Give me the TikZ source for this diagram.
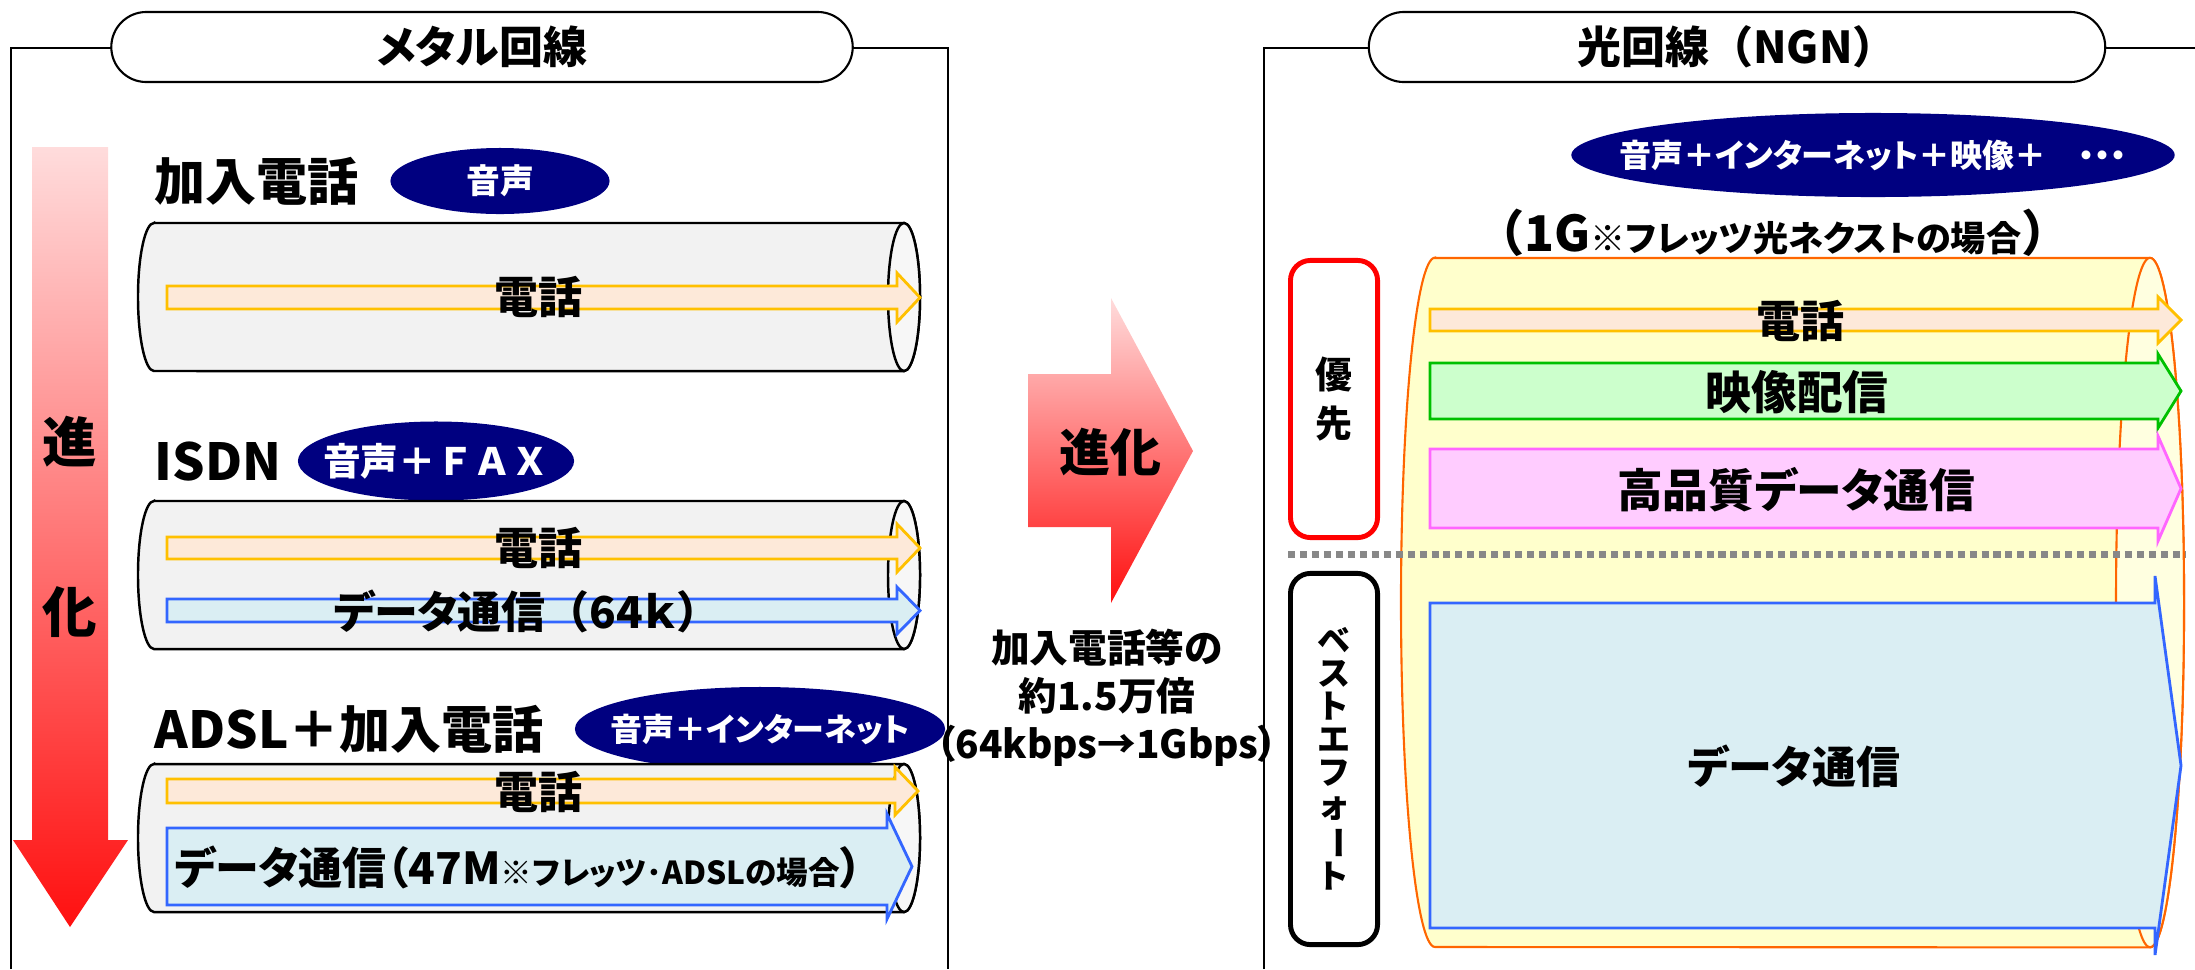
\documentclass[tikz,border=0pt]{standalone}
\usepackage{fontspec}
\usepackage{graphicx}
\setmainfont{Noto Sans CJK JP}[RawFeature=+palt]
\newfontfamily\jpfix{Noto Sans CJK JP}
\usetikzlibrary{shapes.geometric}

\definecolor{navyblue}{HTML}{000080}
\definecolor{tubegray}{HTML}{F2F2F2}
\definecolor{tubeface}{HTML}{F7F7F7}
\definecolor{fibreorange}{HTML}{FF6600}
\definecolor{fibreyellow}{HTML}{FFFFCC}
\definecolor{fibreface}{HTML}{FFFFE0}
\definecolor{telorange}{HTML}{FFC000}
\definecolor{telfill}{HTML}{FDE9D9}
\definecolor{datablue}{HTML}{3366FF}
\definecolor{datafill}{HTML}{DAEEF3}
\definecolor{videogreen}{HTML}{00C000}
\definecolor{videofill}{HTML}{CCFFCC}
\definecolor{hqpink}{HTML}{FF66FF}
\definecolor{hqfill}{HTML}{FFCCFF}
\definecolor{redtop}{HTML}{FFDCDC}
\definecolor{redbot}{HTML}{FF1010}
\definecolor{dotgray}{HTML}{888888}

\tikzset{%
	pill/.style={
		draw,
		line width=0.6pt,
		fill=white,
		rounded corners=0.35cm,
		minimum height=0.7cm,
		inner sep=0pt,
		font=\bfseries\fontsize{12.5}{15}\selectfont
	},
	bubble/.style={
		ellipse,
		fill=navyblue,
		text=white,
		inner xsep=-3cm,
		inner ysep=-1cm,
		font=\bfseries\fontsize{9.6}{11}\selectfont
	},
	service/.style={anchor=west, inner sep=0pt, font=\bfseries\fontsize{14.5}{17}\selectfont},
	flowtext/.style={inner sep=0pt, font=\bfseries\fontsize{12.5}{15}\selectfont},
	tube/.style={draw=black, line width=0.7pt, fill=tubegray},
	tubeend/.style={draw=black, line width=0.7pt, fill=tubeface},
	fibre/.style={draw=fibreorange, line width=0.6pt, fill=fibreyellow},
	fibreend/.style={draw=fibreorange, line width=0.6pt, fill=fibreface},
	telarrow/.style={draw=telorange, line width=0.8pt, fill=telfill},
	dataarrow/.style={draw=datablue, line width=0.8pt, fill=datafill},
	videoarrow/.style={draw=videogreen, line width=0.8pt, fill=videofill},
	hqarrow/.style={draw=hqpink, line width=0.8pt, fill=hqfill},
	classbox/.style={
		draw,
		line width=1.4pt,
		rounded corners=0.2cm,
		minimum width=0.87cm,
		align=center,
		inner sep=0pt
	},
}

% block arrow: style, left x, head x, tip x, shaft top, shaft bottom, head overhang
\newcommand\flowarrow[7]{%
	\pgfmathsetmacro\flowmid{-(#5+#6)/2}
	\filldraw[#1] (#2,-#5) -- (#3,-#5) -- (#3,-#5+#7) -- (#4,\flowmid)
		-- (#3,-#6-#7) -- (#3,-#6) -- (#2,-#6) -- cycle;
}
% lying cylinder: style, end style, left centre x, right centre x, top y, bottom y, end radius
\newcommand\pipe[7]{%
	\pgfmathsetmacro\piperad{(#6-#5)/200}
	\pgfmathsetmacro\pipemid{-(#5+#6)/2}
	\filldraw[#1] (#3,-#5) -- (#4,-#5)
		arc[start angle=90, end angle=-90, x radius=#7cm, y radius=\piperad*1cm]
		-- (#3,-#6)
		arc[start angle=270, end angle=90, x radius=#7cm, y radius=\piperad*1cm] -- cycle;
	\filldraw[#2] (#4,\pipemid) ellipse [x radius=#7cm, y radius=\piperad*1cm];
}

\begin{document}
\begin{tikzpicture}[x=0.01cm, y=0.01cm]
	\useasboundingbox (0,0) rectangle (2195,-969);

	% Draw the two frames
	\draw[line width=0.6pt] (11,-969) -- (11,-48) -- (948,-48) -- (948,-969);
	\draw[line width=0.6pt] (1264,-969) -- (1264,-48) -- (2195,-48);
	\node[pill, minimum width=7.41cm] (metal) at (482,-47) {メタル回線};
	\node[pill, minimum width=7.36cm] (fibre) at (1737,-47) {光回線{\jpfix（}NGN{\jpfix ）}};

	% Draw the evolution arrow on the left
	\shade[top color=redtop, bottom color=redbot] (32,-147) -- (108,-147) -- (108,-840)
		-- (128,-840) -- (70,-927) -- (13,-840) -- (32,-840) -- cycle;
	\node[font=\bfseries\fontsize{15.5}{18}\selectfont] (shin) at (70,-442) {進};
	\node[font=\bfseries\fontsize{15.5}{18}\selectfont] (ka) at (70,-612) {化};

	% Subscriber line
	\node[service] (sub) at (154,-181) {加入電話};
	\node[bubble, minimum width=2.19cm, minimum height=0.66cm] (voice) at (500,-181) {音声};
	\pipe{tube}{tubeend}{154}{904}{223}{371}{0.16}
	\flowarrow{telarrow}{167}{897}{920}{286}{309}{13}
	\node[flowtext] (tel1) at (538,-297) {電話};

	% ISDN
	\node[service] (isdn) at (154,-462) {ISDN};
	\node[bubble, minimum width=2.76cm, minimum height=0.79cm,
		font=\jpfix\bfseries\fontsize{10.7}{12}\selectfont] (voicefax) at (436,-461) {音声＋ＦＡＸ};
	\pipe{tube}{tubeend}{154}{904}{501}{649}{0.16}
	\flowarrow{telarrow}{167}{897}{920}{537}{559}{13}
	\flowarrow{dataarrow}{167}{897}{920}{599}{622}{12}
	\node[flowtext] (tel2) at (538,-548) {電話};
	\node[flowtext] (data2) at (527,-611) {データ通信{\jpfix（}64ｋ{\jpfix ）}};

	% ADSL
	\node[service] (adsl) at (154,-729) {ADSL{\jpfix ＋}加入電話};
	\node[bubble, minimum width=3.7cm, minimum height=0.84cm,
		font=\bfseries\fontsize{9.1}{11}\selectfont] (voicenet) at (760,-729) {音声＋インターネット};
	\pipe{tube}{tubeend}{154}{904}{764}{912}{0.16}
	\flowarrow{telarrow}{167}{895}{918}{779}{803}{12}
	\flowarrow{dataarrow}{167}{887}{912}{828}{905}{14}
	\node[flowtext] (tel3) at (538,-792) {電話};
	\node[flowtext, anchor=west] (data3) at (174,-867)
		{データ通信（47M{\fontsize{9}{10}\selectfont ※フレッツ･ADSLの場合}）};

	% Draw the middle arrow
	\shade[top color=redtop, bottom color=redbot] (1028,-374) -- (1111,-374) -- (1111,-298)
		-- (1193,-451) -- (1111,-603) -- (1111,-527) -- (1028,-527) -- cycle;
	\node[font=\bfseries\fontsize{14.5}{17}\selectfont] (evolve) at (1110,-452) {進化};
	\node[align=center, font=\bfseries\fontsize{11}{13.7}\selectfont] (ratio) at (1107,-698)
		{加入電話等の\\約1.5万倍\\（64kbps→1Gbps）};

	% Optical line
	\node[bubble, minimum width=6.03cm, minimum height=0.84cm,
		font=\bfseries\fontsize{9.1}{11}\selectfont] (allservices) at (1873,-155)
		{音声＋インターネット＋映像＋　・・・};
	\node[inner sep=0pt, font=\bfseries\fontsize{14}{16}\selectfont] (speed) at (1773,-233)
		{{\jpfix（}1G{\fontsize{10}{12}\selectfont ※フレッツ光ネクストの場合}{\jpfix ）}};
	\pipe{fibre}{fibreend}{1435}{2150}{258}{947}{0.34}
	\flowarrow{telarrow}{1430}{2158}{2181}{309}{331}{12}
	\flowarrow{videoarrow}{1430}{2158}{2181}{363}{419}{9}
	\flowarrow{hqarrow}{1430}{2158}{2181}{449}{528}{13}
	\flowarrow{dataarrow}{1430}{2155}{2181}{603}{928}{27}
	\node[flowtext] (tel4) at (1800,-321) {電話};
	\node[flowtext, font=\bfseries\fontsize{13}{15}\selectfont] (video) at (1797,-392) {映像配信};
	\node[flowtext, font=\bfseries\fontsize{13}{15}\selectfont] (hq) at (1796,-490) {高品質データ通信};
	\node[flowtext] (data4) at (1794,-766) {データ通信};

	% Priority classes
	\draw[dotgray, line width=2pt, dash pattern=on 2pt off 1.4pt] (1288,-554) -- (2185,-554);
	\node[classbox, draw=red, minimum height=2.77cm,
		font=\bfseries\fontsize{10.5}{14}\selectfont] (prio) at (1334,-399) {優\\先};
	\node[classbox, minimum height=3.71cm,
		font=\bfseries\fontsize{9.4}{9.4}\selectfont] (best) at (1334,-759)
		{ベ\\ス\\ト\\エ\\フ\\ォ\\\rotatebox[origin=c]{-90}{ー}\\ト};
\end{tikzpicture}
\end{document}
